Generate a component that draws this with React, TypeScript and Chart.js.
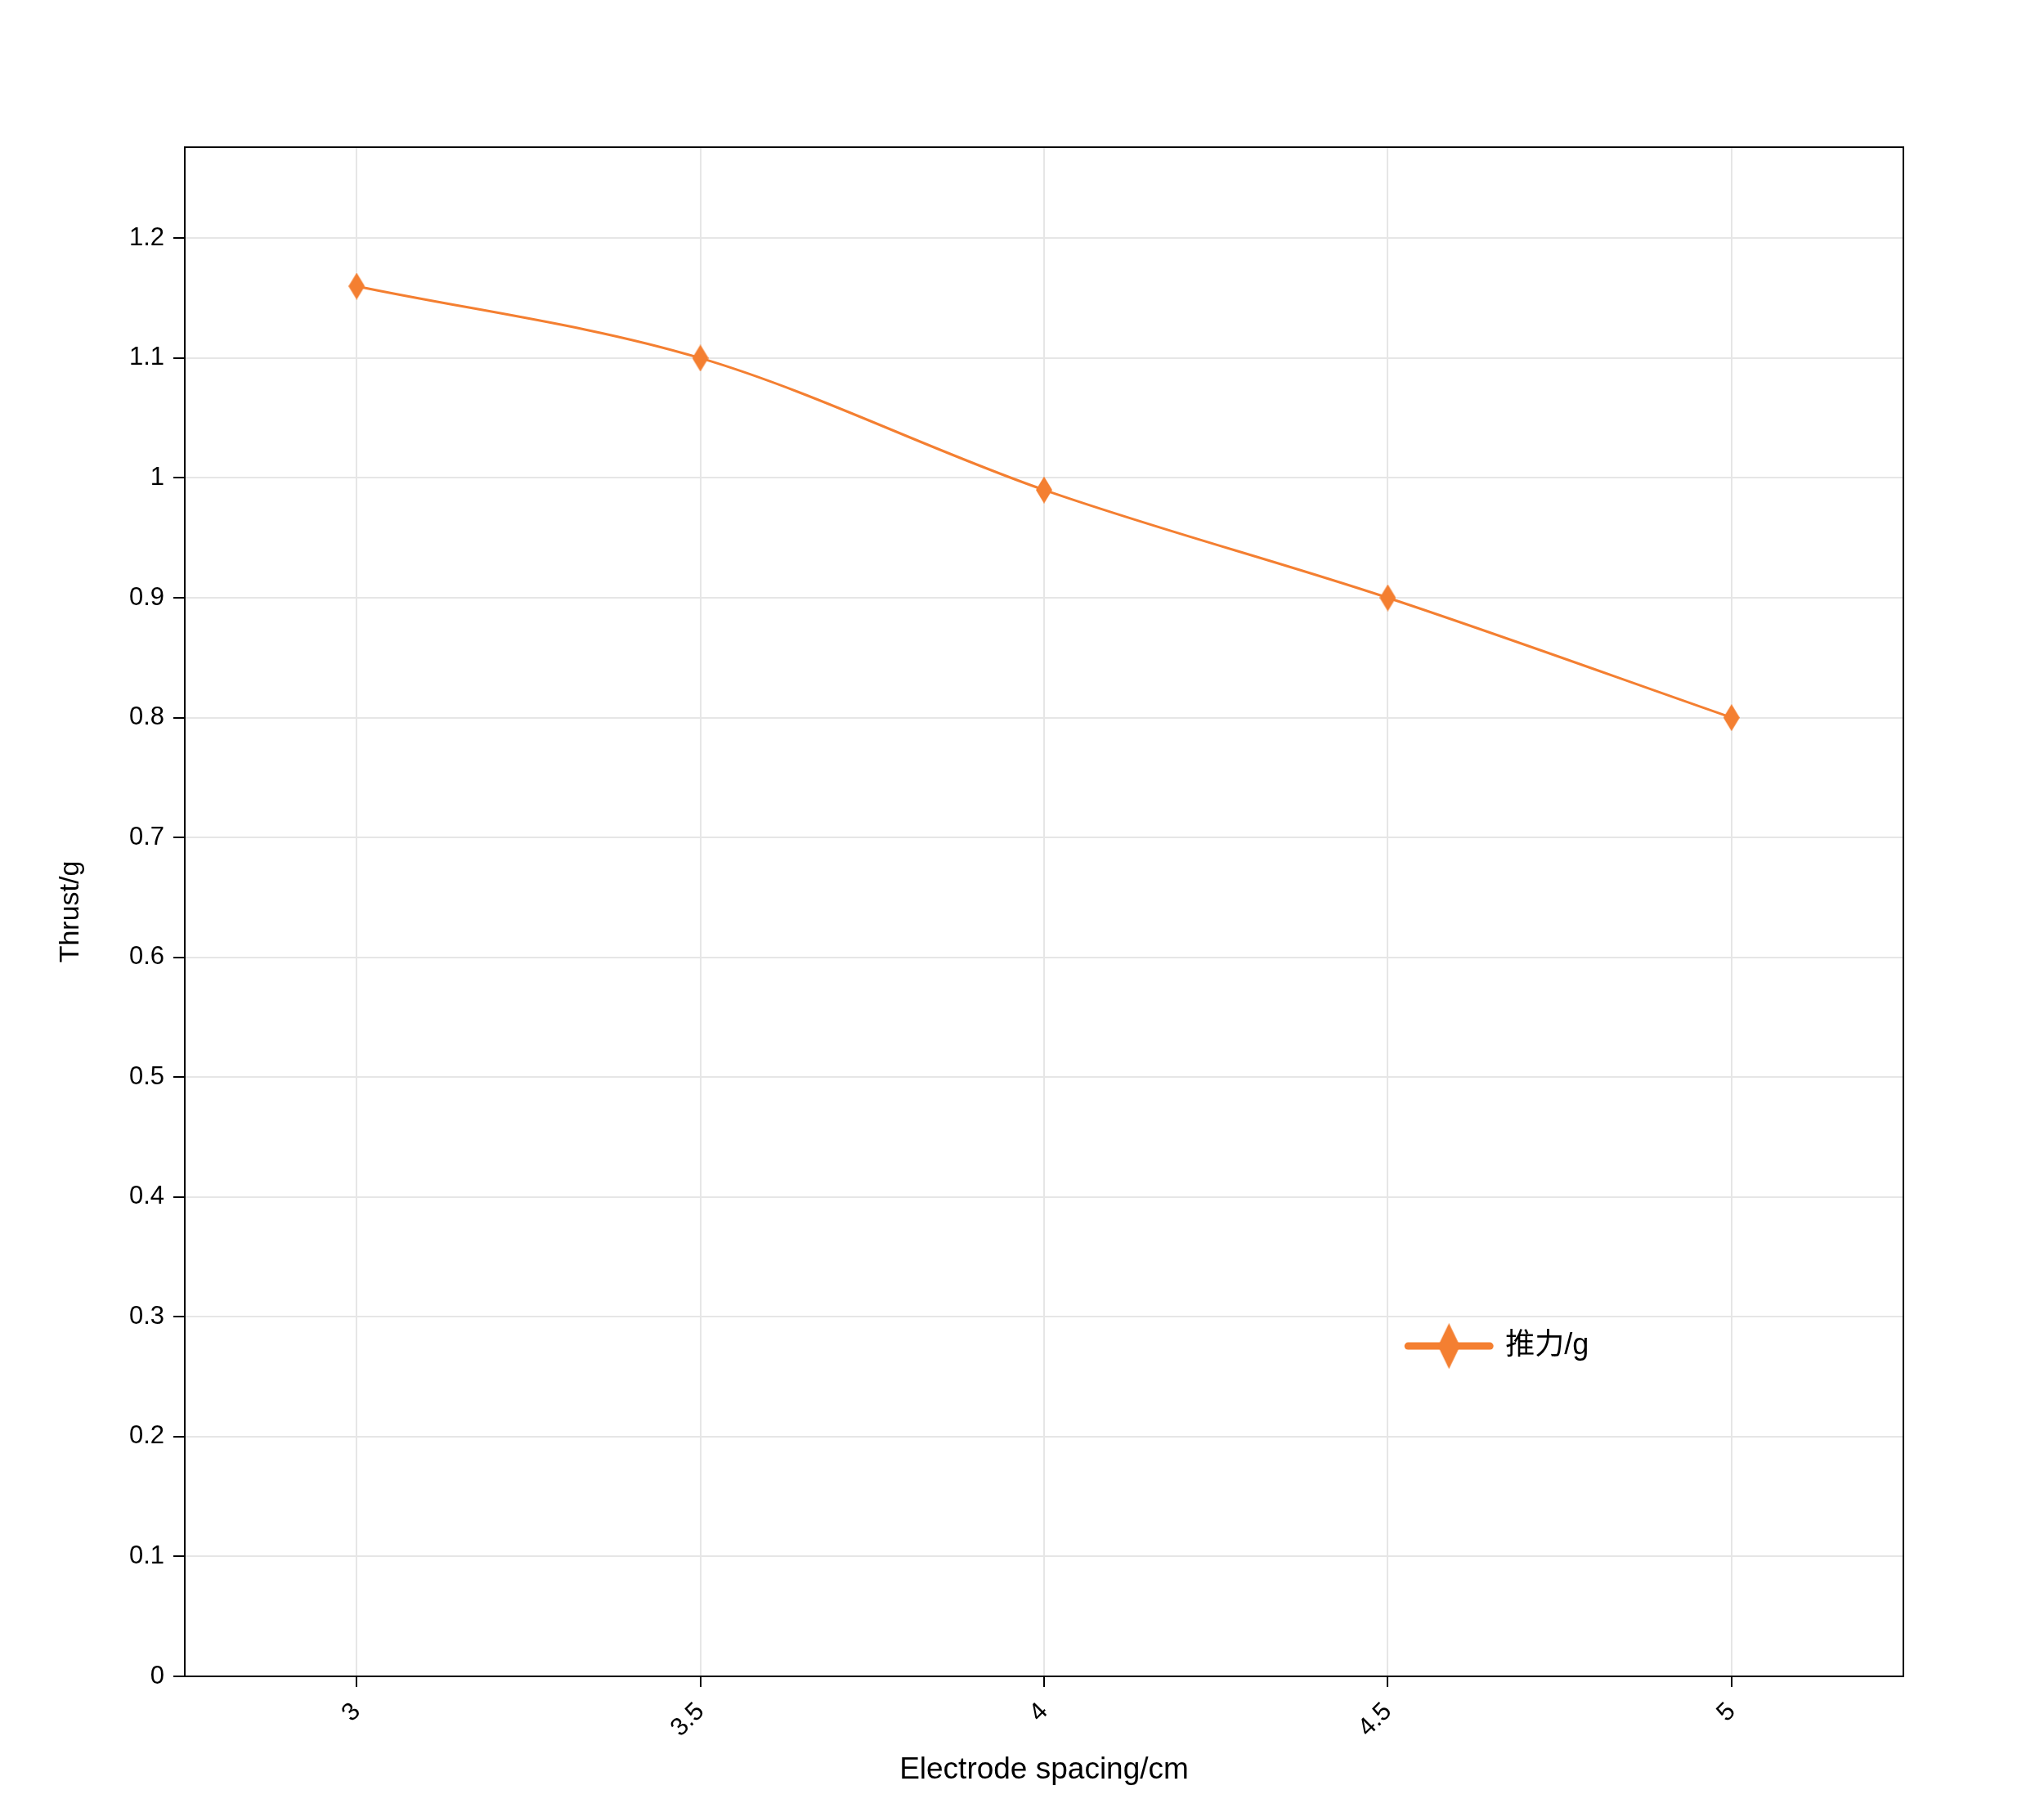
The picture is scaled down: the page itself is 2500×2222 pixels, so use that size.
import React, { useEffect, useRef } from "react";
import { Chart, registerables } from "chart.js";

Chart.register(...registerables);

const categories: string[] = ["3", "3.5", "4", "4.5", "5"];
const thrust: number[] = [1.16, 1.1, 0.99, 0.9, 0.8];
const yTickValues: number[] = [0, 0.1, 0.2, 0.3, 0.4, 0.5, 0.6, 0.7, 0.8, 0.9, 1, 1.1, 1.2];
const seriesLabel = "推力/g";
const xTitle = "Electrode spacing/cm";
const yTitle = "Thrust/g";

const ORANGE = "#F47F31";
const FONT = 'Arial, "Liberation Sans", "Noto Sans CJK SC", sans-serif';

function makeDiamond(w: number, h: number, color: string): HTMLCanvasElement {
  const c = document.createElement("canvas");
  c.width = w;
  c.height = h;
  const ctx = c.getContext("2d")!;
  ctx.fillStyle = color;
  ctx.beginPath();
  ctx.moveTo(w / 2, 0);
  ctx.lineTo(w, h / 2);
  ctx.lineTo(w / 2, h);
  ctx.lineTo(0, h / 2);
  ctx.closePath();
  ctx.fill();
  return c;
}

export default function App() {
  const ref = useRef<HTMLCanvasElement | null>(null);

  useEffect(() => {
    if (!ref.current) return;
    const marker = makeDiamond(20, 33, ORANGE);
    const legendMarker = makeDiamond(27, 56, ORANGE);

    const framePlugin = {
      id: "frameAndLegend",
      afterDraw(chart: any) {
        const { ctx, chartArea } = chart;
        const { left, right, top, bottom } = chartArea;
        ctx.save();
        ctx.strokeStyle = "#000";
        ctx.lineWidth = 2;
        ctx.beginPath();
        ctx.moveTo(left, top);
        ctx.lineTo(right, top);
        ctx.lineTo(right, bottom);
        ctx.stroke();
        // legend inside plot
        const w = right - left;
        const h = bottom - top;
        const lx = left + w * 0.7118;
        const ly = top + h * 0.784;
        ctx.strokeStyle = ORANGE;
        ctx.lineWidth = 9;
        ctx.lineCap = "round";
        ctx.beginPath();
        ctx.moveTo(lx, ly);
        ctx.lineTo(lx + 100, ly);
        ctx.stroke();
        ctx.drawImage(legendMarker, lx + 50 - 13.5, ly - 28);
        ctx.fillStyle = "#000";
        ctx.font = `36px ${FONT}`;
        ctx.textBaseline = "middle";
        ctx.textAlign = "left";
        ctx.fillText(chart.data.datasets[0].label, lx + 119, ly);
        ctx.restore();
      },
    };

    const chart = new Chart(ref.current, {
      type: "line",
      data: {
        labels: categories,
        datasets: [
          {
            label: seriesLabel,
            data: thrust,
            borderColor: ORANGE,
            backgroundColor: ORANGE,
            borderWidth: 3,
            cubicInterpolationMode: "monotone",
            pointStyle: marker as any,
            pointRadius: 10,
            pointHoverRadius: 10,
          },
        ],
      },
      options: {
        animation: false,
        responsive: false,
        maintainAspectRatio: false,
        layout: { padding: { left: 0, top: 180, right: 172, bottom: 0 } },
        plugins: {
          legend: { display: false },
          tooltip: { enabled: false },
          title: { display: false },
        },
        scales: {
          x: {
            type: "category",
            offset: true,
            grid: {
              display: true,
              offset: false,
              color: "#e6e6e6",
              lineWidth: 2,
              drawTicks: true,
              tickLength: 13,
              tickColor: "#000",
              tickWidth: 2,
            },
            border: { display: true, color: "#000", width: 2 },
            ticks: {
              color: "#000",
              font: { family: FONT, size: 31 },
              minRotation: 45,
              maxRotation: 45,
              padding: 12,
            },
            title: {
              display: true,
              text: xTitle,
              color: "#000",
              font: { family: FONT, size: 37 },
              padding: { top: 0, bottom: 35 },
            },
            afterFit: (s: any) => {
              s.height = 172;
            },
          },
          y: {
            type: "linear",
            min: 0,
            max: 1.276,
            afterBuildTicks: (s: any) => {
              s.ticks = yTickValues.map((v) => ({ value: v }));
            },
            grid: {
              color: "#e6e6e6",
              lineWidth: 2,
              drawTicks: true,
              tickLength: 14,
              tickColor: "#000",
              tickWidth: 2,
            },
            border: { display: true, color: "#000", width: 2 },
            ticks: {
              color: "#000",
              font: { family: FONT, size: 31 },
              padding: 11,
              callback: (v: any) => String(v),
            },
            title: {
              display: true,
              text: yTitle,
              color: "#000",
              font: { family: FONT, size: 34 },
              padding: { top: 66, bottom: 0 },
            },
            afterFit: (s: any) => {
              s.width = 226;
            },
          },
        },
      },
      plugins: [framePlugin],
    });

    return () => chart.destroy();
  }, []);

  return (
    <div style={{ position: "absolute", left: 0, top: 0, width: 2500, height: 2222, background: "#fff" }}>
      <canvas ref={ref} width={2500} height={2222} style={{ width: 2500, height: 2222, display: "block" }} />
    </div>
  );
}
